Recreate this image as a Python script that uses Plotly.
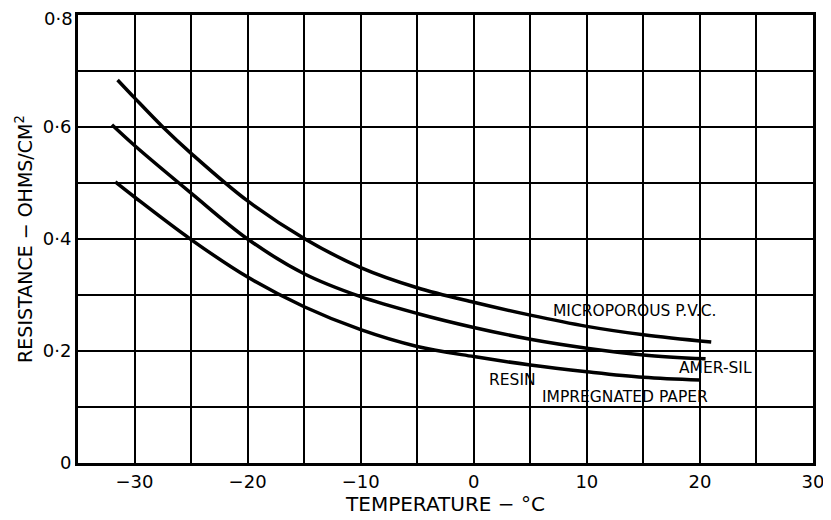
import plotly.graph_objects as go

# Data
pvc_x = [-31.5, -30, -27.5, -25, -20, -15, -10, -5, 0, 5, 10, 15, 21]
pvc_y = [0.684, 0.652, 0.600, 0.553, 0.468, 0.401, 0.349, 0.313, 0.287, 0.264, 0.244, 0.229, 0.216]

amer_x = [-32, -30, -25, -20, -15, -10, -5, 0, 5, 10, 15, 20.5]
amer_y = [0.604, 0.567, 0.482, 0.400, 0.338, 0.297, 0.267, 0.242, 0.221, 0.205, 0.193, 0.186]

resin_x = [-31.7, -30, -25, -20, -15, -10, -5, 0, 5, 10, 15, 20]
resin_y = [0.502, 0.475, 0.399, 0.332, 0.279, 0.238, 0.208, 0.190, 0.175, 0.163, 0.153, 0.148]

x_tickvals = [-30, -20, -10, 0, 10, 20, 30]
x_ticktext = ["−30", "−20", "−10", "0", "10", "20", "30"]
x_gridvals = [-35, -30, -25, -20, -15, -10, -5, 0, 5, 10, 15, 20, 25, 30]
y_tickvals = [0, 0.2, 0.4, 0.6, 0.8]
y_ticktext = ["0", "0·2", "0·4", "0·6", "0·8"]
y_gridvals = [0, 0.1, 0.2, 0.3, 0.4, 0.5, 0.6, 0.7, 0.8]

FONT = "DejaVu Sans"

fig = go.Figure()
for xs, ys in [(pvc_x, pvc_y), (amer_x, amer_y), (resin_x, resin_y)]:
    fig.add_trace(go.Scatter(x=xs, y=ys, mode="lines",
                             line=dict(color="black", width=3.5, shape="spline", smoothing=1.0),
                             showlegend=False, hoverinfo="skip"))

labels = [
    ("MICROPOROUS P.V.C.", 14.3, 0.272),
    ("AMER-SIL", 21.4, 0.170),
    ("RESIN", 3.4, 0.148),
    ("IMPREGNATED PAPER", 13.4, 0.117),
]
for txt, lx, ly in labels:
    fig.add_annotation(x=lx, y=ly, text=txt, showarrow=False,
                       font=dict(family=FONT, size=15.5, color="black"))

# top tick label drawn as an annotation nudged down slightly so it is not clipped
fig.add_annotation(xref="paper", x=0, y=y_tickvals[-1], text=y_ticktext[-1],
                   showarrow=False, xanchor="right", yanchor="middle", xshift=-3, yshift=-3,
                   font=dict(family=FONT, size=18, color="black"))

grid = dict(showgrid=True, gridcolor="black", gridwidth=2)
fig.update_layout(
    width=831, height=520,
    margin=dict(l=70, r=26, t=7, b=65),
    paper_bgcolor="white", plot_bgcolor="white",
    font=dict(family=FONT, color="black"),
    xaxis=dict(range=[-35, 30], tickvals=x_tickvals, ticktext=x_ticktext,
               minor=dict(tickvals=x_gridvals, **grid), **grid,
               showline=True, linecolor="black", linewidth=3, mirror=True,
               zeroline=False, ticks="", tickfont=dict(family=FONT, size=18),
               ticklabeloverflow="allow", automargin=False,
               title=dict(text="TEMPERATURE − °C", font=dict(family=FONT, size=20), standoff=6)),
    yaxis=dict(range=[0, 0.8], tickvals=y_tickvals[:-1], ticktext=y_ticktext[:-1],
               minor=dict(tickvals=y_gridvals, **grid), **grid,
               showline=True, linecolor="black", linewidth=3, mirror=True,
               zeroline=False, ticks="", tickfont=dict(family=FONT, size=18),
               ticklabeloverflow="allow", automargin=False,
               title=dict(text="RESISTANCE − OHMS/CM<sup>2</sup>", font=dict(family=FONT, size=19), standoff=6)),
)

fig.write_html("out.html")
